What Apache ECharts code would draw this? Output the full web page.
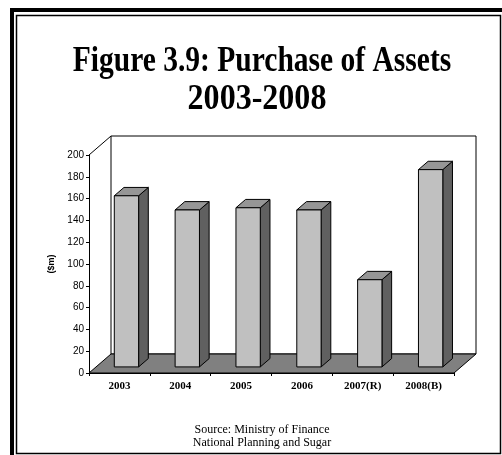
<!DOCTYPE html>
<html>
<head>
<meta charset="utf-8">
<script src="https://cdn.jsdelivr.net/npm/echarts@6/dist/echarts.min.js"></script>
<style>html,body{margin:0;padding:0;background:#fff;}#c{width:502px;height:455px;}</style>
</head>
<body>
<div id="c"></div>
<script>
var categories = ['2003', '2004', '2005', '2006', '2007(R)', '2008(B)'];
var values = [157, 144, 146, 144, 80, 181];
var yTicks = [0, 20, 40, 60, 80, 100, 120, 140, 160, 180, 200];
var titleLines = ['Figure 3.9: Purchase of Assets', '2003-2008'];
var sourceLines = ['Source: Ministry of Finance', 'National Planning and Sugar'];
var yName = '($m)';

var DX = 22, DY = -19;       // depth of the 3D box
var F1 = 0.32, F2 = 0.76;    // bar front/back depth fractions

var chart = echarts.init(document.getElementById('c'), null, {renderer: 'canvas'});

function wallsItem(params, api) {
  var cs = params.coordSys;
  var x = cs.x, y = cs.y, w = cs.width, h = cs.height;
  return {
    type: 'group',
    children: [
      {type: 'polygon', shape: {points: [[x + DX, y + DY], [x + w + DX, y + DY], [x + w + DX, y + h + DY], [x + DX, y + h + DY]]},
       style: {fill: '#ffffff', stroke: '#000', lineWidth: 1}},
      {type: 'polygon', shape: {points: [[x, y + h], [x + DX, y + h + DY], [x + w + DX, y + h + DY], [x + w, y + h]]},
       style: {fill: '#808080', stroke: '#000', lineWidth: 1}},
      {type: 'line', shape: {x1: x, y1: y, x2: x + DX, y2: y + DY}, style: {stroke: '#000', lineWidth: 1}}
    ]
  };
}

function barItem(params, api) {
  var idx = api.value(0), v = api.value(1);
  var base = api.coord([idx, 0]);
  var top = api.coord([idx, v]);
  var band = api.size([1, 0])[0];
  var bw = band * 0.4;
  var ox = F1 * DX, oy = F1 * DY;
  var sdx = (F2 - F1) * DX, sdy = (F2 - F1) * DY;
  var xL = base[0] - bw / 2 + ox, xR = xL + bw;
  var yB = base[1] + oy, yT = top[1] + oy;
  var st = {stroke: '#000', lineWidth: 1};
  return {
    type: 'group',
    children: [
      {type: 'polygon', shape: {points: [[xR, yT], [xR + sdx, yT + sdy], [xR + sdx, yB + sdy], [xR, yB]]},
       style: Object.assign({fill: '#606060'}, st)},
      {type: 'polygon', shape: {points: [[xL, yT], [xL + sdx, yT + sdy], [xR + sdx, yT + sdy], [xR, yT]]},
       style: Object.assign({fill: '#969696'}, st)},
      {type: 'rect', shape: {x: xL, y: yT, width: bw, height: yB - yT},
       style: Object.assign({fill: '#c0c0c0'}, st)}
    ]
  };
}

var option = {
  animation: false,
  backgroundColor: '#ffffff',
  grid: {left: 89, right: 48, top: 155, bottom: 82, containLabel: false},
  xAxis: {
    type: 'category', data: categories, boundaryGap: true,
    axisLine: {show: true, lineStyle: {color: '#000', width: 1}},
    axisTick: {show: true, inside: false, length: 3, interval: 0, lineStyle: {color: '#000'}},
    axisLabel: {interval: 0, margin: 8, color: '#000', fontFamily: '"Liberation Serif", serif', fontWeight: 'bold', fontSize: 11},
    splitLine: {show: false}
  },
  yAxis: {
    type: 'value', min: yTicks[0], max: yTicks[yTicks.length - 1], interval: yTicks[1] - yTicks[0],
    name: yName, nameLocation: 'middle', nameGap: 31, nameRotate: 90,
    nameTextStyle: {fontFamily: '"Liberation Sans", Arial, sans-serif', fontWeight: 'bold', fontSize: 9, color: '#000'},
    axisLine: {show: true, lineStyle: {color: '#000', width: 1}},
    axisTick: {show: true, inside: false, length: 3, lineStyle: {color: '#000'}},
    axisLabel: {margin: 5, color: '#000', fontFamily: '"Liberation Sans", Arial, sans-serif', fontSize: 10},
    splitLine: {show: false}
  },
  graphic: [
    {type: 'rect', z: 100, shape: {x: 12, y: 10, width: 500, height: 460}, style: {fill: 'none', stroke: '#000', lineWidth: 4}},
    {type: 'rect', z: 100, shape: {x: 16.5, y: 15.5, width: 484, height: 438}, style: {fill: 'none', stroke: '#000', lineWidth: 1.5}},
    {type: 'text', x: 262, y: 62, scaleX: 0.82, z: 100,
     style: {text: titleLines[0], font: 'bold 36px "Liberation Serif", serif', fill: '#000', textAlign: 'center', textVerticalAlign: 'middle', align: 'center', verticalAlign: 'middle'}},
    {type: 'text', x: 257, y: 100, scaleX: 0.89, z: 100,
     style: {text: titleLines[1], font: 'bold 36px "Liberation Serif", serif', fill: '#000', textAlign: 'center', textVerticalAlign: 'middle', align: 'center', verticalAlign: 'middle'}},
    {type: 'text', x: 262, y: 430, z: 100,
     style: {text: sourceLines[0], font: '12px "Liberation Serif", serif', fill: '#000', textAlign: 'center', textVerticalAlign: 'middle', align: 'center', verticalAlign: 'middle'}},
    {type: 'text', x: 262, y: 443, z: 100,
     style: {text: sourceLines[1], font: '12px "Liberation Serif", serif', fill: '#000', textAlign: 'center', textVerticalAlign: 'middle', align: 'center', verticalAlign: 'middle'}}
  ],
  series: [
    {type: 'custom', name: 'walls', renderItem: wallsItem, data: [[0, 0]], z: 1, silent: true,
     encode: {x: 0, y: 1}},
    {type: 'custom', name: 'Purchase of Assets', renderItem: barItem, z: 2,
     data: values.map(function (v, i) { return [i, v]; }), encode: {x: 0, y: 1}}
  ]
};
chart.setOption(option);
</script>
</body>
</html>
